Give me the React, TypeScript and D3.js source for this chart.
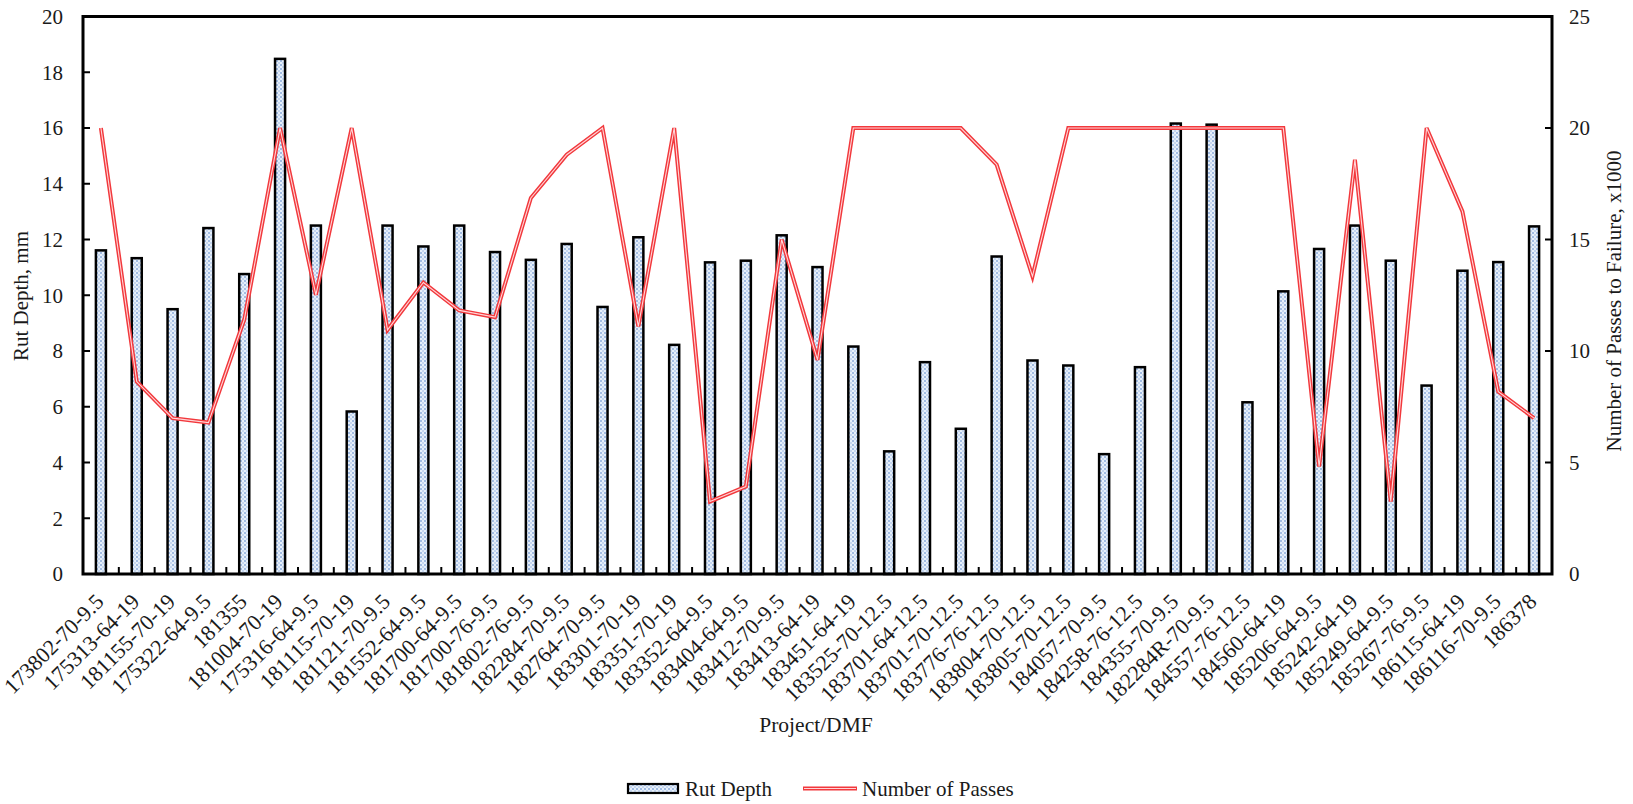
import React from "react";
import * as d3 from "d3";

const categories = [
  "173802-70-9.5", "175313-64-19", "181155-70-19", "175322-64-9.5", "181355",
  "181004-70-19", "175316-64-9.5", "181115-70-19", "181121-70-9.5", "181552-64-9.5",
  "181700-64-9.5", "181700-76-9.5", "181802-76-9.5", "182284-70-9.5", "182764-70-9.5",
  "183301-70-19", "183351-70-19", "183352-64-9.5", "183404-64-9.5", "183412-70-9.5",
  "183413-64-19", "183451-64-19", "183525-70-12.5", "183701-64-12.5", "183701-70-12.5",
  "183776-76-12.5", "183804-70-12.5", "183805-70-12.5", "184057-70-9.5", "184258-76-12.5",
  "184355-70-9.5", "182284R-70-9.5", "184557-76-12.5", "184560-64-19", "185206-64-9.5",
  "185242-64-19", "185249-64-9.5", "185267-76-9.5", "186115-64-19", "186116-70-9.5",
  "186378",
];

const rutDepth = [
  11.61, 11.33, 9.5, 12.41, 10.76, 18.48, 12.5, 5.83, 12.5, 11.75,
  12.5, 11.55, 11.27, 11.84, 9.58, 12.08, 8.22, 11.18, 11.24, 12.15,
  11.01, 8.16, 4.4, 7.6, 5.21, 11.39, 7.66, 7.48, 4.3, 7.42,
  16.16, 16.12, 6.16, 10.14, 11.66, 12.5, 11.24, 6.76, 10.88, 11.19,
  12.47,
];

const passes = [
  20, 8.63, 6.99, 6.79, 11.4, 20, 12.52, 20, 10.95, 13.07,
  11.82, 11.52, 16.86, 18.8, 20, 11.1, 20, 3.25, 3.92, 15.0,
  9.6, 20, 20, 20, 20, 18.36, 13.35, 20, 20, 20,
  20, 20, 20, 20, 4.82, 18.58, 3.25, 20, 16.26, 8.18,
  6.99,
];

const leftTicks = [0, 2, 4, 6, 8, 10, 12, 14, 16, 18, 20];
const rightTicks = [0, 5, 10, 15, 20, 25];

const W = 1633;
const H = 804;
const m = { left: 83, right: 1552, top: 16.5, bottom: 574 };
const FONT = "'Liberation Serif', 'Times New Roman', serif";
const TXT = "#1a1a1a";

export default function App() {
  const x = d3
    .scaleBand<string>()
    .domain(categories)
    .range([m.left, m.right])
    .paddingInner(0)
    .paddingOuter(0);
  const yL = d3.scaleLinear().domain([0, 20]).range([m.bottom, m.top]);
  const yR = d3.scaleLinear().domain([0, 25]).range([m.bottom, m.top]);
  const bw = x.bandwidth();
  const barW = bw * 0.28;

  const line = d3
    .line<number>()
    .x((_, i) => (x(categories[i]) as number) + bw / 2)
    .y((d) => yR(d));
  const path = line(passes) || "";

  const midY = (m.top + m.bottom) / 2;

  return (
    <svg
      width={W}
      height={H}
      style={{ position: "absolute", left: 0, top: 0, background: "#fff" }}
      fontFamily={FONT}
    >
      <defs>
        <pattern id="dots" width="4" height="4" patternUnits="userSpaceOnUse">
          <rect width="4" height="4" fill="#e6effa" />
          <circle cx="1" cy="1" r="0.75" fill="#3c6fc0" />
          <circle cx="3" cy="3" r="0.7" fill="#8aaade" />
        </pattern>
      </defs>
      <rect x={0} y={0} width={W} height={H} fill="#fff" />

      {/* bars */}
      {rutDepth.map((v, i) => {
        const cx = (x(categories[i]) as number) + bw / 2;
        return (
          <rect
            key={"b" + i}
            x={cx - barW / 2}
            y={yL(v)}
            width={barW}
            height={yL(0) - yL(v)}
            fill="url(#dots)"
            stroke="#000"
            strokeWidth={2.5}
          />
        );
      })}

      {/* line */}
      <path d={path} fill="none" stroke="#f2383c" strokeWidth={4} strokeLinejoin="miter" />
      <path d={path} fill="none" stroke="#ffd6d8" strokeWidth={1.1} strokeLinejoin="miter" />

      {/* frame */}
      <rect
        x={m.left}
        y={m.top}
        width={m.right - m.left}
        height={m.bottom - m.top}
        fill="none"
        stroke="#000"
        strokeWidth={3}
      />

      {/* x ticks */}
      {categories.slice(1).map((c, i) => (
        <line
          key={"xt" + i}
          x1={x(c) as number}
          x2={x(c) as number}
          y1={m.bottom}
          y2={m.bottom - 7}
          stroke="#000"
          strokeWidth={2}
        />
      ))}

      {/* left ticks */}
      {leftTicks.map((t) => (
        <g key={"lt" + t}>
          <line x1={m.left} x2={m.left + 7} y1={yL(t)} y2={yL(t)} stroke="#000" strokeWidth={2} />
          <text x={63} y={yL(t)} dy="0.35em" textAnchor="end" fontSize={21} fill={TXT}>
            {t}
          </text>
        </g>
      ))}

      {/* right ticks */}
      {rightTicks.map((t) => (
        <g key={"rt" + t}>
          <line x1={m.right - 7} x2={m.right} y1={yR(t)} y2={yR(t)} stroke="#000" strokeWidth={2} />
          <text x={1569} y={yR(t)} dy="0.35em" textAnchor="start" fontSize={21} fill={TXT}>
            {t}
          </text>
        </g>
      ))}

      {/* x labels */}
      {categories.map((c, i) => {
        const cx = (x(c) as number) + bw / 2 + 4;
        const cy = 603;
        return (
          <text
            key={"xl" + i}
            x={cx}
            y={cy}
            textAnchor="end"
            fontSize={22}
            fill={TXT}
            transform={`rotate(-45 ${cx} ${cy})`}
          >
            {c}
          </text>
        );
      })}

      {/* axis titles */}
      <text
        x={28}
        y={296}
        textAnchor="middle"
        fontSize={21}
        fill={TXT}
        transform={`rotate(-90 28 296)`}
      >
        Rut Depth, mm
      </text>
      <text
        x={1621}
        y={301}
        textAnchor="middle"
        fontSize={21}
        fill={TXT}
        transform={`rotate(-90 1621 301)`}
      >
        Number of Passes to Failure, x1000
      </text>
      <text x={816} y={732} textAnchor="middle" fontSize={21.5} fill={TXT}>
        Project/DMF
      </text>

      {/* legend */}
      <rect x={628} y={784} width={50} height={9} fill="url(#dots)" stroke="#000" strokeWidth={2.2} />
      <text x={685} y={796} fontSize={21} fill={TXT}>
        Rut Depth
      </text>
      <line x1={803} x2={857} y1={788.5} y2={788.5} stroke="#f2383c" strokeWidth={4} />
      <line x1={804} x2={856} y1={788.5} y2={788.5} stroke="#ffd6d8" strokeWidth={1.1} />
      <text x={862} y={796} fontSize={21} fill={TXT}>
        Number of Passes
      </text>
    </svg>
  );
}
